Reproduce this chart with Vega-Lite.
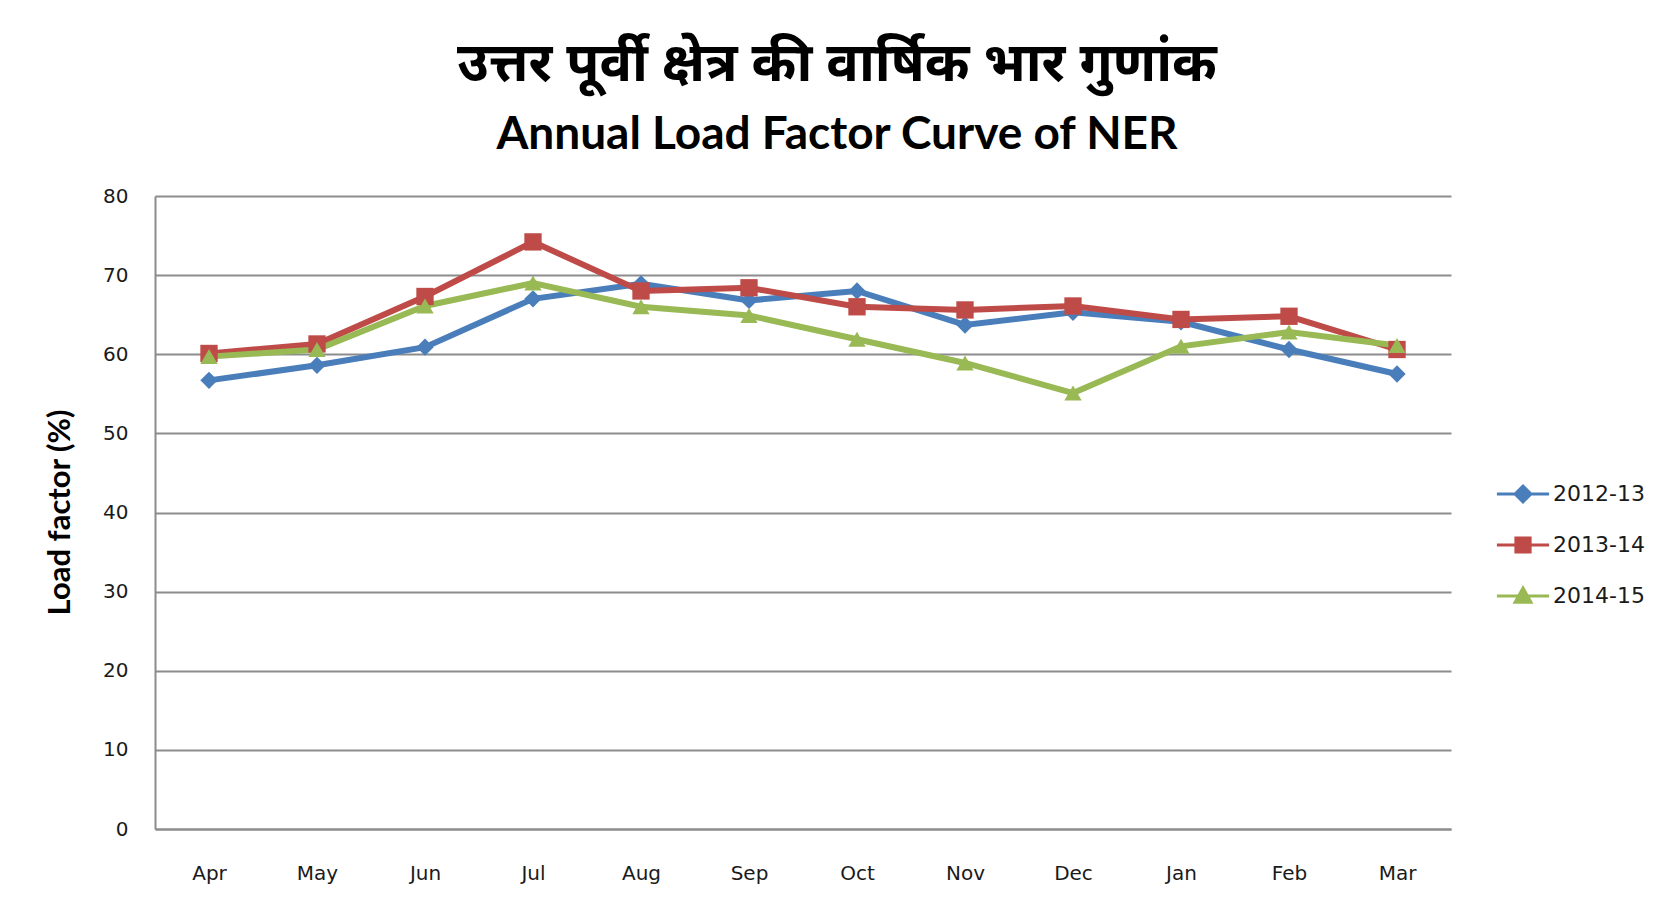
{
  "$schema": "https://vega.github.io/schema/vega-lite/v6.json",
  "width": 1296,
  "height": 633,
  "autosize": {"type": "none"},
  "padding": {"left": 155, "top": 196, "right": 204, "bottom": 81},
  "background": "white",
  "title": {
    "text": "उत्तर पूर्वी क्षेत्र की वार्षिक भार गुणांक",
    "subtitle": "Annual Load Factor Curve of NER",
    "anchor": "middle",
    "dx": 34,
    "offset": 28,
    "font": "Noto Sans",
    "fontSize": 54,
    "fontWeight": "bold",
    "color": "#000000",
    "subtitleFont": "Lato",
    "subtitleFontSize": 46,
    "subtitleFontWeight": "bold",
    "subtitleColor": "#000000",
    "subtitlePadding": 21
  },
  "data": {
    "values": [
      {"month": "Apr", "series": "2012-13", "lf": 56.7},
      {"month": "May", "series": "2012-13", "lf": 58.6},
      {"month": "Jun", "series": "2012-13", "lf": 60.9},
      {"month": "Jul", "series": "2012-13", "lf": 67.0},
      {"month": "Aug", "series": "2012-13", "lf": 68.9},
      {"month": "Sep", "series": "2012-13", "lf": 66.8},
      {"month": "Oct", "series": "2012-13", "lf": 68.0},
      {"month": "Nov", "series": "2012-13", "lf": 63.7},
      {"month": "Dec", "series": "2012-13", "lf": 65.3},
      {"month": "Jan", "series": "2012-13", "lf": 64.1},
      {"month": "Feb", "series": "2012-13", "lf": 60.6},
      {"month": "Mar", "series": "2012-13", "lf": 57.5},
      {"month": "Apr", "series": "2013-14", "lf": 60.1},
      {"month": "May", "series": "2013-14", "lf": 61.3},
      {"month": "Jun", "series": "2013-14", "lf": 67.3},
      {"month": "Jul", "series": "2013-14", "lf": 74.2},
      {"month": "Aug", "series": "2013-14", "lf": 68.0},
      {"month": "Sep", "series": "2013-14", "lf": 68.4},
      {"month": "Oct", "series": "2013-14", "lf": 66.0},
      {"month": "Nov", "series": "2013-14", "lf": 65.6},
      {"month": "Dec", "series": "2013-14", "lf": 66.1},
      {"month": "Jan", "series": "2013-14", "lf": 64.4},
      {"month": "Feb", "series": "2013-14", "lf": 64.8},
      {"month": "Mar", "series": "2013-14", "lf": 60.6},
      {"month": "Apr", "series": "2014-15", "lf": 59.7},
      {"month": "May", "series": "2014-15", "lf": 60.6},
      {"month": "Jun", "series": "2014-15", "lf": 66.1},
      {"month": "Jul", "series": "2014-15", "lf": 69.0},
      {"month": "Aug", "series": "2014-15", "lf": 66.0},
      {"month": "Sep", "series": "2014-15", "lf": 64.9},
      {"month": "Oct", "series": "2014-15", "lf": 61.9},
      {"month": "Nov", "series": "2014-15", "lf": 58.9},
      {"month": "Dec", "series": "2014-15", "lf": 55.1},
      {"month": "Jan", "series": "2014-15", "lf": 61.0},
      {"month": "Feb", "series": "2014-15", "lf": 62.8},
      {"month": "Mar", "series": "2014-15", "lf": 61.1}
    ]
  },
  "encoding": {
    "x": {
      "field": "month",
      "type": "ordinal",
      "sort": ["Apr", "May", "Jun", "Jul", "Aug", "Sep", "Oct", "Nov", "Dec", "Jan", "Feb", "Mar"],
      "axis": {
        "title": null,
        "labelAngle": 0,
        "ticks": false,
        "labelPadding": 34,
        "labelFont": "DejaVu Sans",
        "labelFontSize": 20,
        "labelColor": "#1a1a1a",
        "domainColor": "#8c8c8c",
        "domainWidth": 2,
        "grid": false
      }
    },
    "y": {
      "field": "lf",
      "type": "quantitative",
      "scale": {"domain": [0, 80], "nice": false},
      "axis": {
        "title": "Load factor (%)",
        "values": [0, 10, 20, 30, 40, 50, 60, 70, 80],
        "ticks": false,
        "labelPadding": 27,
        "labelFont": "DejaVu Sans",
        "labelFontSize": 20,
        "labelColor": "#1a1a1a",
        "domainColor": "#8c8c8c",
        "domainWidth": 2,
        "grid": true,
        "gridColor": "#8c8c8c",
        "gridWidth": 2,
        "titleFont": "Lato",
        "titleFontSize": 31,
        "titleFontWeight": "bold",
        "titleColor": "#000000",
        "titleAngle": -90,
        "titleX": -95,
        "titleY": 316,
        "titleAlign": "center",
        "titleBaseline": "middle"
      }
    }
  },
  "layer": [
    {
      "mark": {"type": "line", "strokeWidth": 6},
      "encoding": {
        "stroke": {
          "field": "series",
          "type": "nominal",
          "scale": {"domain": ["2012-13", "2013-14", "2014-15"], "range": ["#4A7EBB", "#BE4B48", "#98B954"]},
          "legend": {
            "title": null,
            "orient": "none",
            "legendX": 1357,
            "legendY": 287,
            "padding": 0,
            "rowPadding": 23,
            "labelOffset": 19,
            "labelFont": "DejaVu Sans",
            "labelFontSize": 22,
            "labelColor": "#1a1a1a",
            "symbolSize": 250,
            "encode": {
              "symbols": {
                "update": {
                  "shape": {"signal": "datum.value === '2012-13' ? 'M-3.3,0L3.3,0M0,-1L1,0L0,1L-1,0Z' : datum.value === '2013-14' ? 'M-3.3,0L3.3,0M-0.9,-0.9L0.9,-0.9L0.9,0.9L-0.9,0.9Z' : 'M-3.3,0L3.3,0M0,-1L1,0.8L-1,0.8Z'"},
                  "fill": {"scale": "stroke", "field": "value"},
                  "stroke": {"scale": "stroke", "field": "value"},
                  "strokeWidth": {"value": 3},
                  "size": {"value": 250},
                  "opacity": {"value": 1},
                  "fillOpacity": {"value": 1},
                  "strokeOpacity": {"value": 1}
                }
              }
            }
          }
        }
      }
    },
    {
      "transform": [{"filter": "datum.series === '2012-13'"}],
      "mark": {"type": "point", "filled": true, "opacity": 1, "size": 300, "shape": "diamond", "color": "#4A7EBB"}
    },
    {
      "transform": [{"filter": "datum.series === '2013-14'"}],
      "mark": {"type": "point", "filled": true, "opacity": 1, "size": 300, "shape": "square", "color": "#BE4B48"}
    },
    {
      "transform": [{"filter": "datum.series === '2014-15'"}],
      "mark": {"type": "point", "filled": true, "opacity": 1, "size": 300, "shape": "triangle-up", "color": "#98B954"}
    }
  ],
  "config": {
    "view": {"stroke": null}
  }
}
